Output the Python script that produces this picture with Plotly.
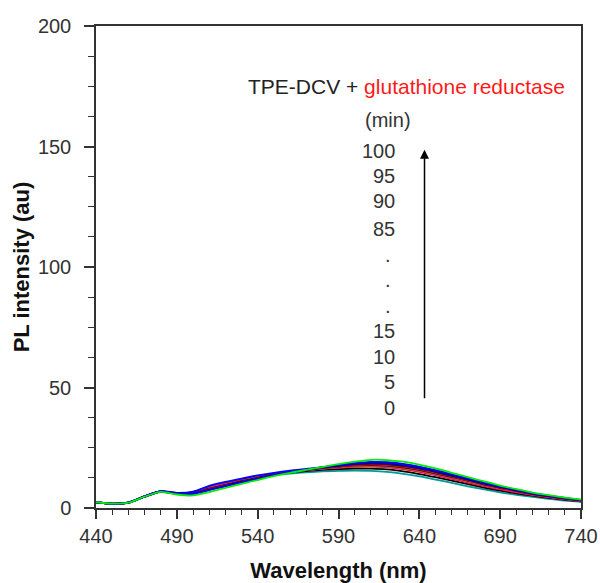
import plotly.graph_objects as go

wavelength = list(range(440, 741, 10))

times = [0, 10, 20, 30, 40, 50, 60, 70, 80, 90, 100]

pl_0 = [2.3,1.7,2.1,4.6,6.6,5.9,6.4,8.4,10.0,11.4,12.6,13.6,14.3,14.8,15.2,15.4,15.5,15.4,15.0,14.2,13.1,11.8,10.4,9.0,7.7,6.5,5.5,4.6,3.8,3.1,2.6]
pl_10 = [2.3,1.8,2.2,4.7,6.7,6.0,6.5,8.5,10.1,11.5,12.8,13.9,14.7,15.3,15.8,16.1,16.3,16.3,16.0,15.2,14.1,12.8,11.4,9.9,8.5,7.2,6.1,5.1,4.2,3.4,2.8]
pl_20 = [2.4,1.8,2.2,4.8,6.8,6.1,6.6,8.6,10.2,11.6,12.9,14.1,15.0,15.7,16.3,16.8,17.1,17.2,16.9,16.1,15.0,13.6,12.1,10.6,9.1,7.7,6.5,5.4,4.5,3.6,2.9]
pl_30 = [2.3,1.8,2.2,4.7,6.8,6.0,6.4,8.3,9.9,11.3,12.7,13.9,14.9,15.7,16.4,16.9,17.3,17.4,17.1,16.4,15.3,13.9,12.4,10.9,9.4,8.0,6.7,5.6,4.6,3.7,3.0]
pl_40 = [2.4,1.8,2.3,4.8,6.9,6.1,6.3,8.1,9.7,11.2,12.6,13.8,14.9,15.7,16.4,17.0,17.4,17.5,17.3,16.6,15.5,14.1,12.6,11.1,9.6,8.2,6.9,5.8,4.8,3.8,3.1]
pl_50 = [2.3,1.7,2.2,4.7,6.8,6.0,6.2,8.0,9.6,11.1,12.5,13.8,14.9,15.8,16.6,17.2,17.7,17.8,17.6,16.9,15.8,14.4,12.9,11.4,9.8,8.4,7.0,5.8,4.8,3.9,3.1]
pl_60 = [2.4,1.8,2.2,4.8,6.8,5.9,6.1,7.8,9.4,10.9,12.3,13.7,14.8,15.8,16.6,17.3,17.8,18.0,17.8,17.1,16.0,14.6,13.1,11.5,10.0,8.5,7.1,5.9,4.9,4.0,3.2]
pl_70 = [2.3,1.8,2.3,4.9,7.0,6.3,6.8,9.2,10.8,12.2,13.5,14.6,15.5,16.2,16.9,17.6,18.3,18.8,18.6,17.8,16.6,15.1,13.5,11.9,10.2,8.7,7.3,6.0,5.0,4.1,3.3]
pl_80 = [2.3,1.7,2.2,4.8,6.9,6.1,6.0,7.6,9.2,10.8,12.2,13.6,14.8,15.8,16.7,17.5,18.1,18.4,18.2,17.5,16.4,15.0,13.4,11.8,10.2,8.7,7.3,6.0,5.0,4.0,3.2]
pl_90 = [2.4,1.8,2.2,4.8,6.9,6.0,5.8,7.4,9.0,10.6,12.1,13.5,14.8,15.9,16.9,17.8,18.6,19.1,19.0,18.3,17.2,15.7,14.0,12.3,10.6,9.0,7.6,6.2,5.1,4.2,3.4]
pl_100 = [2.4,1.8,2.2,4.7,6.7,5.6,5.2,6.6,8.3,10.0,11.6,13.2,14.6,15.8,17.0,18.2,19.2,20.0,19.9,19.2,18.0,16.4,14.6,12.8,11.0,9.3,7.8,6.4,5.3,4.3,3.5]

series = [pl_0, pl_10, pl_20, pl_30, pl_40, pl_50, pl_60, pl_70, pl_80, pl_90, pl_100]
colors = ["#009a9a", "#000000", "#ff0000", "#ff00ff", "#808000", "#000000",
          "#ff0000", "#0000ff", "#000080", "#0000ff", "#00ee00"]

label_times = ["100", "95", "90", "85", ".", ".", ".", "15", "10", "5", "0"]
label_y = [148.0, 137.6, 127.5, 115.9, 105.1, 94.7, 83.9, 73.3, 62.5, 52.4, 41.7]

FONT = "Liberation Sans, Arial, sans-serif"

fig = go.Figure()
for t, ys, c in zip(times, series, colors):
    fig.add_trace(go.Scatter(x=wavelength, y=ys, mode="lines", name=f"{t} min",
                             line=dict(color=c, width=1.8, shape="spline", smoothing=0.8),
                             showlegend=False))

fig.add_annotation(x=631.9, y=174.8, xref="x", yref="y", showarrow=False,
                   text="TPE-DCV + <span style='color:#ff1a1a'>glutathione reductase</span>",
                   font=dict(family=FONT, size=21, color="#222222"))
fig.add_annotation(x=620.5, y=161.1, xref="x", yref="y", showarrow=False,
                   text="(min)", font=dict(family=FONT, size=20, color="#333333"))
for lab, yv in zip(label_times, label_y):
    fig.add_annotation(x=626.3 if lab != "." else 624.0, y=yv, xref="x", yref="y",
                       showarrow=False, xanchor="right", text=lab,
                       font=dict(family=FONT, size=20, color="#333333"))
fig.add_annotation(x=643.2, y=148.7, ax=643.2, ay=44.9, xref="x", yref="y",
                   axref="x", ayref="y", showarrow=True, arrowhead=2, arrowsize=1.2,
                   arrowwidth=1.5, arrowcolor="#000000", text="")

fig.update_layout(
    width=600, height=583,
    margin=dict(l=96, r=19, t=26, b=75),
    paper_bgcolor="white", plot_bgcolor="white",
    font=dict(family=FONT, size=20, color="#333333"),
)
fig.update_xaxes(
    range=[440, 740], dtick=50, tick0=440, showgrid=False, zeroline=False,
    showline=True, linecolor="#333333", linewidth=1.5, mirror=True,
    ticks="outside", ticklen=9, tickwidth=1.5, tickcolor="#333333",
    minor=dict(dtick=10, ticks="outside", ticklen=5, tickwidth=1.3, tickcolor="#333333", showgrid=False),
    title=dict(text="<b>Wavelength (nm)</b>", font=dict(family=FONT, size=22, color="#111111"), standoff=18),
    tickfont=dict(family=FONT, size=20, color="#333333"),
    automargin=False,
)
fig.update_yaxes(
    range=[0, 200], dtick=50, tick0=0, showgrid=False, zeroline=False,
    showline=True, linecolor="#333333", linewidth=1.5, mirror=True,
    ticks="outside", ticklen=10, tickwidth=1.5, tickcolor="#333333",
    minor=dict(dtick=12.5, ticks="outside", ticklen=6, tickwidth=1.3, tickcolor="#333333", showgrid=False),
    title=dict(text="<b>PL intensity (au)</b>", font=dict(family=FONT, size=22, color="#111111"), standoff=2),
    tickfont=dict(family=FONT, size=20, color="#333333"),
    ticklabelstandoff=9,
    automargin=False,
)

fig.write_html("out.html")
